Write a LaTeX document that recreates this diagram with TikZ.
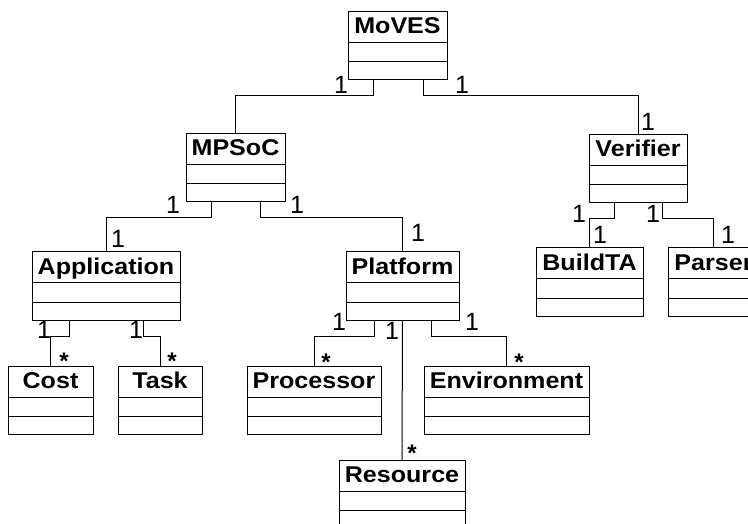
\documentclass[tikz,border=0pt]{standalone}
\usepackage{fontspec}
\setmainfont{Liberation Sans}
\newfontfamily\classfont[FakeStretch=1.1]{Liberation Sans}
\usetikzlibrary{fit}

\tikzset{
  classbox/.style={draw, line width=1pt, inner sep=0pt, outer sep=0pt},
  classname/.style={anchor=base, inner sep=0pt, font=\classfont\bfseries\fontsize{22.8}{22.8}\selectfont},
  mult/.style={inner sep=0pt, font=\fontsize{25}{25}\selectfont},
  many/.style={anchor=base, inner sep=0pt, font=\bfseries\fontsize{24}{24}\selectfont},
  assoc/.style={line width=1pt},
  divider/.style={line width=1pt},
}

% UML class with empty attribute and operation compartments:
% #1 name, #2 left, #3 top, #4 right, #5 bottom, #6 class name
\newcommand\umlclass[6]{%
  \node[classbox, fit={(#2,#3) (#4,#5)}] (#1) {};
  \node[classname] (#1-title) at ([yshift=-22pt]#1.north) {#6};
  \draw[divider] ([yshift=-31pt]#1.north west) -- ([yshift=-31pt]#1.north east);
  \draw[divider] ([yshift=-50pt]#1.north west) -- ([yshift=-50pt]#1.north east);
}

\begin{document}
\begin{tikzpicture}[x=1pt,y=-1pt]
\useasboundingbox (0,0) rectangle (748,524);
\fill[white] (0,0) rectangle (748,524);
\clip (0,0) rectangle (748,524);

% classes
\umlclass{moves}{348}{12}{447}{80}{MoVES}
\umlclass{mpsoc}{186}{134}{285}{202}{MPSoC}
\umlclass{verifier}{589}{135}{687}{203}{Verifier}
\umlclass{application}{32}{252}{180}{320}{Application}
\umlclass{platform}{346}{252}{459}{320}{Platform}
\umlclass{buildta}{536}{248}{643}{316}{BuildTA}
\umlclass{parser}{668}{248}{759}{316}{Parser}
\umlclass{cost}{8}{366}{93}{434}{Cost}
\umlclass{task}{118}{366}{202}{434}{Task}
\umlclass{processor}{247}{366}{381}{434}{Processor}
\umlclass{environment}{424}{366}{589}{434}{Environment}
\umlclass{resource}{339}{460}{465}{528}{Resource}

% associations
\draw[assoc] ([xshift=-24.5pt]moves.south) -- ++(0,16) -| (mpsoc.north);
\draw[assoc] ([xshift=25.5pt]moves.south) -- ++(0,16) -| (verifier.north);
\draw[assoc] ([xshift=-24.5pt]mpsoc.south) -- ++(0,16) -| (application.north);
\draw[assoc] ([xshift=24.5pt]mpsoc.south) -- ++(0,16) -| (platform.north);
\draw[assoc] ([xshift=-24pt]verifier.south) -- ++(0,16) -| (buildta.north);
\draw[assoc] ([xshift=24pt]verifier.south) -- ++(0,16) -| (parser.north);
\draw[assoc] ([xshift=-37pt]application.south) -- ++(0,16) -| (cost.north);
\draw[assoc] ([xshift=37pt]application.south) -- ++(0,16) -| (task.north);
\draw[assoc] ([xshift=-28.5pt]platform.south) -- ++(0,16) -| (processor.north);
\draw[assoc] (platform.south) -- (resource.north);
\draw[assoc] ([xshift=28.5pt]platform.south) -- ++(0,16) -| (environment.north);

% multiplicities
\node[mult] (m-moves-l) at (341,85) {1};
\node[mult] (m-moves-r) at (462,85) {1};
\node[mult] (m-verifier-top) at (648,122) {1};
\node[mult] (m-mpsoc-l) at (173,205) {1};
\node[mult] (m-mpsoc-r) at (297,205) {1};
\node[mult] (m-application-top) at (118,239) {1};
\node[mult] (m-platform-top) at (418,233) {1};
\node[mult] (m-verifier-l) at (579,214) {1};
\node[mult] (m-verifier-r) at (653,214) {1};
\node[mult] (m-buildta-top) at (600,235) {1};
\node[mult] (m-parser-top) at (728,235) {1};
\node[mult] (m-application-l) at (44,330) {1};
\node[mult] (m-application-r) at (136,330) {1};
\node[mult] (m-platform-l) at (339,322) {1};
\node[mult] (m-platform-m) at (392,331) {1};
\node[mult] (m-platform-r) at (472,322) {1};
\node[many] (s-cost) at (64,369) {\smash{*}};
\node[many] (s-task) at (172,369) {\smash{*}};
\node[many] (s-processor) at (326,370) {\smash{*}};
\node[many] (s-environment) at (519,370) {\smash{*}};
\node[many] (s-resource) at (412,461) {\smash{*}};
\end{tikzpicture}
\end{document}
